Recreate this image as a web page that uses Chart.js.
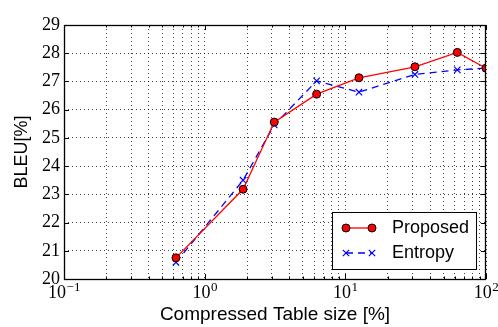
<!DOCTYPE html>
<html lang="en">
<head>
    <meta charset="UTF-8">
    <title>BLEU vs compressed table size</title>
    <script src="https://cdn.jsdelivr.net/npm/chart.js"></script>
    <style>
        body { margin: 0; background: #fff; }
        canvas { display: block; }
    </style>
</head>
<body>
    <canvas id="myChart" width="498" height="327"></canvas>
    <script>
        // table size [%] for each measured point
        const tableSize = [0.625, 1.875, 3.125, 6.25, 12.5, 31.25, 62.5, 100];
        const proposedBleu = [20.75, 23.18, 25.56, 26.55, 27.13, 27.52, 28.03, 27.47];
        const entropyBleu = [20.59, 23.50, 25.46, 27.02, 26.62, 27.25, 27.41, 27.47];

        const xMajorTicks = [0.1, 1, 10, 100];
        const xTickExponents = ['\u22121', '0', '1', '2'];
        const xMinorSteps = [2, 3, 4, 5, 6, 7, 8, 9];
        const yTicks = [20, 21, 22, 23, 24, 25, 26, 27, 28, 29];

        const seriesNames = ['Proposed', 'Entropy'];

        function toPoints(ys) {
            return tableSize.map((x, i) => ({ x: x, y: ys[i] }));
        }

        function allXTicks() {
            const out = [];
            xMajorTicks.forEach((m, i) => {
                out.push({ value: m, major: true });
                if (i < xMajorTicks.length - 1) {
                    xMinorSteps.forEach(s => out.push({ value: m * s, major: false }));
                }
            });
            return out;
        }

        const serif = '"Liberation Serif", serif';
        const sans = '"Liberation Sans", Arial, sans-serif';

        // frame, inward ticks, 10^n labels and the legend box
        const framePlugin = {
            id: 'frame',
            afterDatasetsDraw(chart) {
                const { ctx, chartArea: a, scales } = chart;
                ctx.save();
                ctx.strokeStyle = '#000';
                ctx.lineWidth = 1;
                ctx.beginPath();
                scales.x.ticks.forEach(t => {
                    const px = Math.round(scales.x.getPixelForValue(t.value)) + 0.5;
                    const len = t.major ? 5 : 2.5;
                    ctx.moveTo(px, a.bottom); ctx.lineTo(px, a.bottom - len);
                    ctx.moveTo(px, a.top); ctx.lineTo(px, a.top + len);
                });
                scales.y.ticks.forEach(t => {
                    const py = Math.round(scales.y.getPixelForValue(t.value)) + 0.5;
                    ctx.moveTo(a.left, py); ctx.lineTo(a.left + 5, py);
                    ctx.moveTo(a.right, py); ctx.lineTo(a.right - 5, py);
                });
                ctx.stroke();
                ctx.lineWidth = 1.3;
                ctx.strokeRect(a.left + 0.5, a.top + 0.5, a.right - a.left - 1, a.bottom - a.top);

                // x tick labels with a raised exponent
                ctx.fillStyle = '#000';
                ctx.textBaseline = 'alphabetic';
                ctx.textAlign = 'left';
                xMajorTicks.forEach((v, i) => {
                    const px = scales.x.getPixelForValue(v);
                    ctx.font = '18px ' + serif;
                    const wBase = ctx.measureText('10').width;
                    ctx.font = '13px ' + serif;
                    const wExp = ctx.measureText(xTickExponents[i]).width;
                    const x0 = px - (wBase + wExp) / 2;
                    ctx.font = '18px ' + serif;
                    ctx.fillText('10', x0, a.bottom + 19);
                    ctx.font = '13px ' + serif;
                    ctx.fillText(xTickExponents[i], x0 + wBase + 0.5, a.bottom + 12);
                });
                ctx.restore();
            },
            afterDraw(chart) {
                const ctx = chart.ctx;
                const box = { x: 332.5, y: 212.5, w: 144, h: 57 };
                ctx.save();
                ctx.fillStyle = '#fff';
                ctx.fillRect(box.x, box.y, box.w, box.h);
                ctx.strokeStyle = '#000';
                ctx.lineWidth = 1;
                ctx.strokeRect(box.x, box.y, box.w, box.h);
                const rowY = [228, 253];
                chart.data.datasets.forEach((ds, i) => {
                    const y = rowY[i];
                    ctx.strokeStyle = ds.borderColor;
                    ctx.lineWidth = ds.borderWidth;
                    ctx.setLineDash(ds.borderDash || []);
                    ctx.beginPath();
                    ctx.moveTo(346, y);
                    ctx.lineTo(372, y);
                    ctx.stroke();
                    ctx.setLineDash([]);
                    const pOpts = {
                        pointStyle: ds.pointStyle,
                        radius: ds.pointRadius,
                        borderWidth: ds.pointBorderWidth
                    };
                    [346, 372].forEach(px => {
                        ctx.fillStyle = ds.pointBackgroundColor;
                        ctx.strokeStyle = ds.pointBorderColor;
                        ctx.lineWidth = ds.pointBorderWidth;
                        Chart.helpers.drawPoint(ctx, pOpts, px, y);
                    });
                    ctx.fillStyle = '#000';
                    ctx.font = '18px ' + sans;
                    ctx.textBaseline = 'middle';
                    ctx.textAlign = 'left';
                    ctx.fillText(seriesNames[i], 392, y);
                });
                ctx.restore();
            }
        };

        const ctx = document.getElementById('myChart').getContext('2d');
        const myChart = new Chart(ctx, {
            type: 'scatter',
            data: {
                datasets: [
                    {
                        label: seriesNames[0],
                        data: toPoints(proposedBleu),
                        showLine: true,
                        borderColor: '#ff0000',
                        borderWidth: 1.3,
                        pointStyle: 'circle',
                        pointRadius: 4,
                        pointBorderWidth: 1,
                        pointBackgroundColor: '#ff0000',
                        pointBorderColor: '#000',
                        clip: 0
                    },
                    {
                        label: seriesNames[1],
                        data: toPoints(entropyBleu),
                        showLine: true,
                        borderColor: '#0000ff',
                        borderWidth: 1.3,
                        borderDash: [7, 5],
                        pointStyle: 'crossRot',
                        pointRadius: 4.5,
                        pointBorderWidth: 1.2,
                        pointBackgroundColor: '#0000ff',
                        pointBorderColor: '#0000ff',
                        clip: 0
                    }
                ]
            },
            options: {
                responsive: false,
                animation: false,
                layout: { padding: { top: 25, right: 12, left: 0, bottom: 0 } },
                plugins: {
                    legend: { display: false },
                    tooltip: { enabled: false }
                },
                scales: {
                    x: {
                        type: 'logarithmic',
                        min: 0.1,
                        max: 100,
                        afterFit: s => { s.height = 48; },
                        afterBuildTicks: s => { s.ticks = allXTicks(); },
                        grid: {
                            color: 'rgba(0,0,0,0.75)',
                            lineWidth: 1,
                            drawTicks: false
                        },
                        border: { display: false, dash: [1, 3] },
                        ticks: {
                            autoSkip: false,
                            maxRotation: 0,
                            callback: () => ''
                        },
                        title: {
                            display: true,
                            text: 'Compressed Table size [%]',
                            color: '#000',
                            padding: { top: 0, bottom: 1 },
                            font: { family: sans, size: 19 }
                        }
                    },
                    y: {
                        min: 20,
                        max: 29,
                        afterFit: s => { s.width = 64; },
                        afterBuildTicks: s => { s.ticks = yTicks.map(v => ({ value: v })); },
                        grid: {
                            color: 'rgba(0,0,0,0.75)',
                            lineWidth: 1,
                            drawTicks: false
                        },
                        border: { display: false, dash: [1, 3] },
                        ticks: {
                            padding: 4,
                            color: '#000',
                            font: { family: serif, size: 18 }
                        },
                        title: {
                            display: true,
                            text: 'BLEU[%]',
                            color: '#000',
                            padding: { top: 11, bottom: 0 },
                            font: { family: sans, size: 18 }
                        }
                    }
                }
            },
            plugins: [framePlugin]
        });
    </script>
</body>
</html>
